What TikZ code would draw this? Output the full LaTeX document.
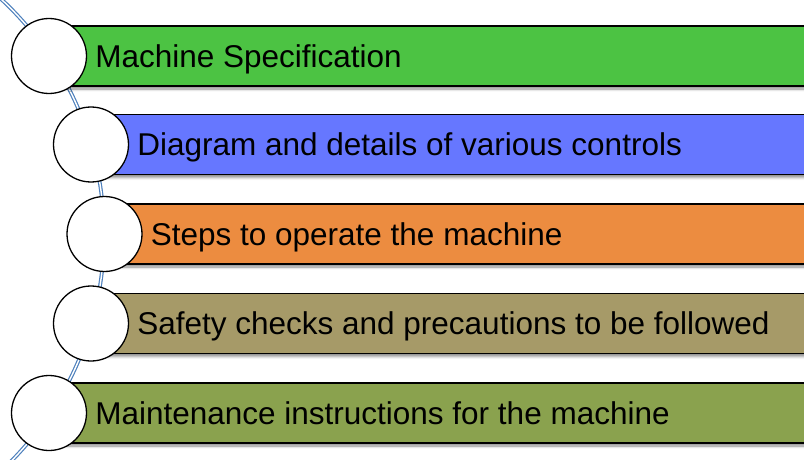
\documentclass[tikz,border=0pt]{standalone}
\usepackage{fontspec}
\setmainfont{Liberation Sans}
\usetikzlibrary{shadows.blur}
\definecolor{cgreen}{RGB}{76,195,67}
\definecolor{cblue}{RGB}{102,119,255}
\definecolor{corange}{RGB}{236,140,64}
\definecolor{ckhaki}{RGB}{166,154,104}
\definecolor{colive}{RGB}{138,162,78}
\definecolor{spineblue}{RGB}{79,129,189}
\begin{document}
\begin{tikzpicture}[x=1pt,y=-1pt,
  bar/.style={rectangle,draw=black,line width=1.3pt,minimum width=820pt,minimum height=60pt,inner sep=0pt,anchor=west,
    blur shadow={shadow xshift=0pt,shadow yshift=-3pt,shadow blur radius=2.5pt,shadow opacity=45}},
  dot/.style={circle,draw=black,line width=1.3pt,fill=white,minimum size=75pt,inner sep=0pt},
  lbl/.style={anchor=base west,font=\fontsize{31.5}{36}\selectfont,inner sep=0pt,xshift=8pt,yshift=-11pt},
  spine/.style={draw=spineblue,line width=1.2pt,double=white,double distance=1.4pt}]
\useasboundingbox (0,0) rectangle (804,460);
\clip (0,0) rectangle (804,460);
\draw[spine] (-218,235) circle[radius=322pt];
\node[bar,fill=cgreen] (b1) at (49,56) {};
\node[bar,fill=cblue] (b2) at (91,144.5) {};
\node[bar,fill=corange] (b3) at (104.5,234) {};
\node[bar,fill=ckhaki] (b4) at (91,323.5) {};
\node[bar,fill=colive] (b5) at (49,413) {};
\node[dot] (c1) at (49,56) {};
\node[dot] (c2) at (91,144.5) {};
\node[dot] (c3) at (104.5,234) {};
\node[dot] (c4) at (91,323.5) {};
\node[dot] (c5) at (49,413) {};
\node[lbl] (t1) at (c1.east) {Machine Specification};
\node[lbl] (t2) at (c2.east) {Diagram and details of various controls};
\node[lbl] (t3) at (c3.east) {Steps to operate the machine};
\node[lbl] (t4) at (c4.east) {Safety checks and precautions to be followed};
\node[lbl] (t5) at (c5.east) {Maintenance instructions for the machine};
\end{tikzpicture}
\end{document}
